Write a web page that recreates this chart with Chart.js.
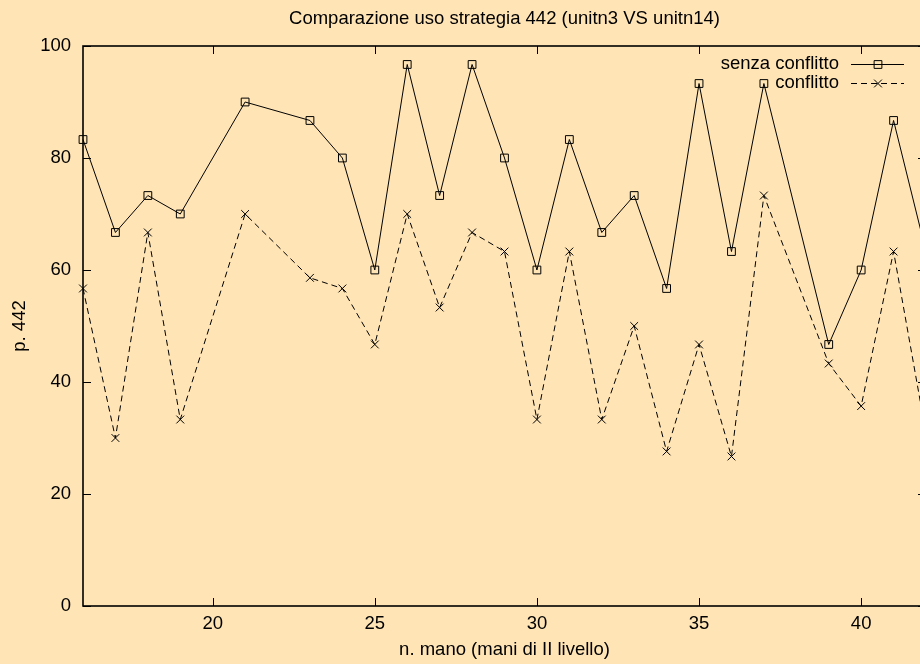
<!DOCTYPE html>
<html>
<head>
<meta charset="utf-8">
<script src="https://cdn.jsdelivr.net/npm/chart.js@4.4.1/dist/chart.umd.min.js"></script>
<style>
  html, body { margin: 0; padding: 0; background: #ffe4b5; overflow: hidden; }
  canvas { display: block; }
</style>
</head>
<body>
<canvas id="chart" width="940" height="664"></canvas>
<script>
// hands (x) and share of strategy 442 for both series
const mani = [16, 17, 18, 19, 21, 23, 24, 25, 26, 27, 28, 29, 30, 31, 32, 33, 34, 35, 36, 37, 39, 40, 41, 42]
const senzaConflitto = [83.3, 66.7, 73.3, 70, 90, 86.7, 80, 60, 96.7, 73.3, 96.7, 80, 60, 83.3, 66.7, 73.3, 56.7, 93.3, 63.3, 93.3, 46.7, 60, 86.7, 63.3]
const conflitto = [56.7, 30, 66.7, 33.3, 70, 58.6, 56.7, 46.7, 70, 53.3, 66.7, 63.3, 33.3, 63.3, 33.3, 50, 27.6, 46.7, 26.7, 73.3, 43.3, 35.7, 63.3, 30.8]
const xTicks = [20, 25, 30, 35, 40]
const yTicks = [0, 20, 40, 60, 80, 100]

Chart.defaults.font.family = '"Liberation Sans", Arial, sans-serif'
Chart.defaults.font.size = 18.5
Chart.defaults.color = '#000'

// gnuplot style frame with inward ticks on all sides
const frame = {
    id: 'frame',
    afterDatasetsDraw(chart) {
        const { ctx, chartArea: a, scales } = chart
        ctx.save()
        ctx.strokeStyle = '#000'
        ctx.lineWidth = 1
        for (let v of xTicks) {
            let px = Math.round(scales.x.getPixelForValue(v)) + 0.5
            ctx.beginPath()
            ctx.moveTo(px, a.bottom); ctx.lineTo(px, a.bottom - 8)
            ctx.moveTo(px, a.top); ctx.lineTo(px, a.top + 8)
            ctx.stroke()
        }
        for (let v of yTicks) {
            let py = Math.round(scales.y.getPixelForValue(v)) + 0.5
            ctx.beginPath()
            ctx.moveTo(a.left, py); ctx.lineTo(a.left + 8, py)
            ctx.moveTo(a.right, py); ctx.lineTo(a.right - 8, py)
            ctx.stroke()
        }
        ctx.lineWidth = 1.6
        ctx.strokeRect(a.left, a.top, a.right - a.left, a.bottom - a.top)
        ctx.restore()
    }
}

// key inside the plot, text on the left of the sample
const key = {
    id: 'key',
    afterDraw(chart) {
        const { ctx } = chart
        ctx.save()
        ctx.font = '18.5px "Liberation Sans", Arial, sans-serif'
        ctx.textAlign = 'right'
        ctx.textBaseline = 'middle'
        chart.data.datasets.forEach((ds, i) => {
            let y = 64 + i * 19
            ctx.fillStyle = '#000'
            ctx.fillText(ds.label, 839, y)
            ctx.strokeStyle = '#000'
            ctx.lineWidth = 1
            ctx.setLineDash(ds.borderDash || [])
            ctx.beginPath()
            ctx.moveTo(851, y + 0.5)
            ctx.lineTo(904, y + 0.5)
            ctx.stroke()
            ctx.setLineDash([])
            ctx.fillStyle = 'rgba(0,0,0,0)'
            Chart.helpers.drawPoint(ctx, {
                pointStyle: ds.pointStyle,
                radius: ds.pointRadius,
                rotation: 0,
                borderWidth: 1
            }, 878, y + 0.5)
        })
        ctx.restore()
    }
}

new Chart(document.getElementById('chart'), {
    type: 'line',
    data: {
        datasets: [
            {
                label: 'senza conflitto',
                data: mani.map((x, i) => ({ x: x, y: senzaConflitto[i] })),
                borderColor: '#000',
                borderWidth: 1,
                pointStyle: 'rect',
                pointRadius: 5.5,
                pointBorderWidth: 1,
                pointBorderColor: '#000',
                pointBackgroundColor: 'rgba(0,0,0,0)',
                tension: 0,
                clip: false
            },
            {
                label: 'conflitto',
                data: mani.map((x, i) => ({ x: x, y: conflitto[i] })),
                borderColor: '#000',
                borderWidth: 1,
                borderDash: [6, 4],
                pointStyle: 'crossRot',
                pointRadius: 5.5,
                pointBorderWidth: 1,
                pointBorderColor: '#000',
                pointBackgroundColor: 'rgba(0,0,0,0)',
                tension: 0,
                clip: false
            }
        ]
    },
    options: {
        responsive: false,
        animation: false,
        layout: {
            padding: { left: 0, right: 14, top: 0, bottom: 0 }
        },
        plugins: {
            legend: { display: false },
            tooltip: { enabled: false }
        },
        scales: {
            x: {
                type: 'linear',
                min: 16,
                max: 42,
                afterBuildTicks: s => { s.ticks = xTicks.map(v => ({ value: v })) },
                afterFit: s => { s.height = 58 },
                grid: { display: false, drawTicks: false },
                border: { display: false },
                ticks: { padding: 7, maxRotation: 0 },
                title: {
                    display: true,
                    text: 'n. mano (mani di II livello)',
                    padding: { top: 0, bottom: 3 }
                }
            },
            x2: {
                type: 'linear',
                position: 'top',
                afterFit: s => { s.height = 46 },
                grid: { display: false, drawTicks: false },
                border: { display: false },
                ticks: { display: false },
                title: {
                    display: true,
                    text: 'Comparazione uso strategia 442 (unitn3 VS unitn14)',
                    padding: { top: 8, bottom: 0 }
                }
            },
            y: {
                min: 0,
                max: 100,
                afterBuildTicks: s => { s.ticks = yTicks.map(v => ({ value: v })) },
                afterFit: s => { s.width = 83 },
                grid: { display: false, drawTicks: false },
                border: { display: false },
                ticks: { padding: 12 },
                title: {
                    display: true,
                    text: 'p. 442',
                    padding: { top: 9, bottom: 0 }
                }
            }
        }
    },
    plugins: [frame, key]
})
</script>
</body>
</html>
